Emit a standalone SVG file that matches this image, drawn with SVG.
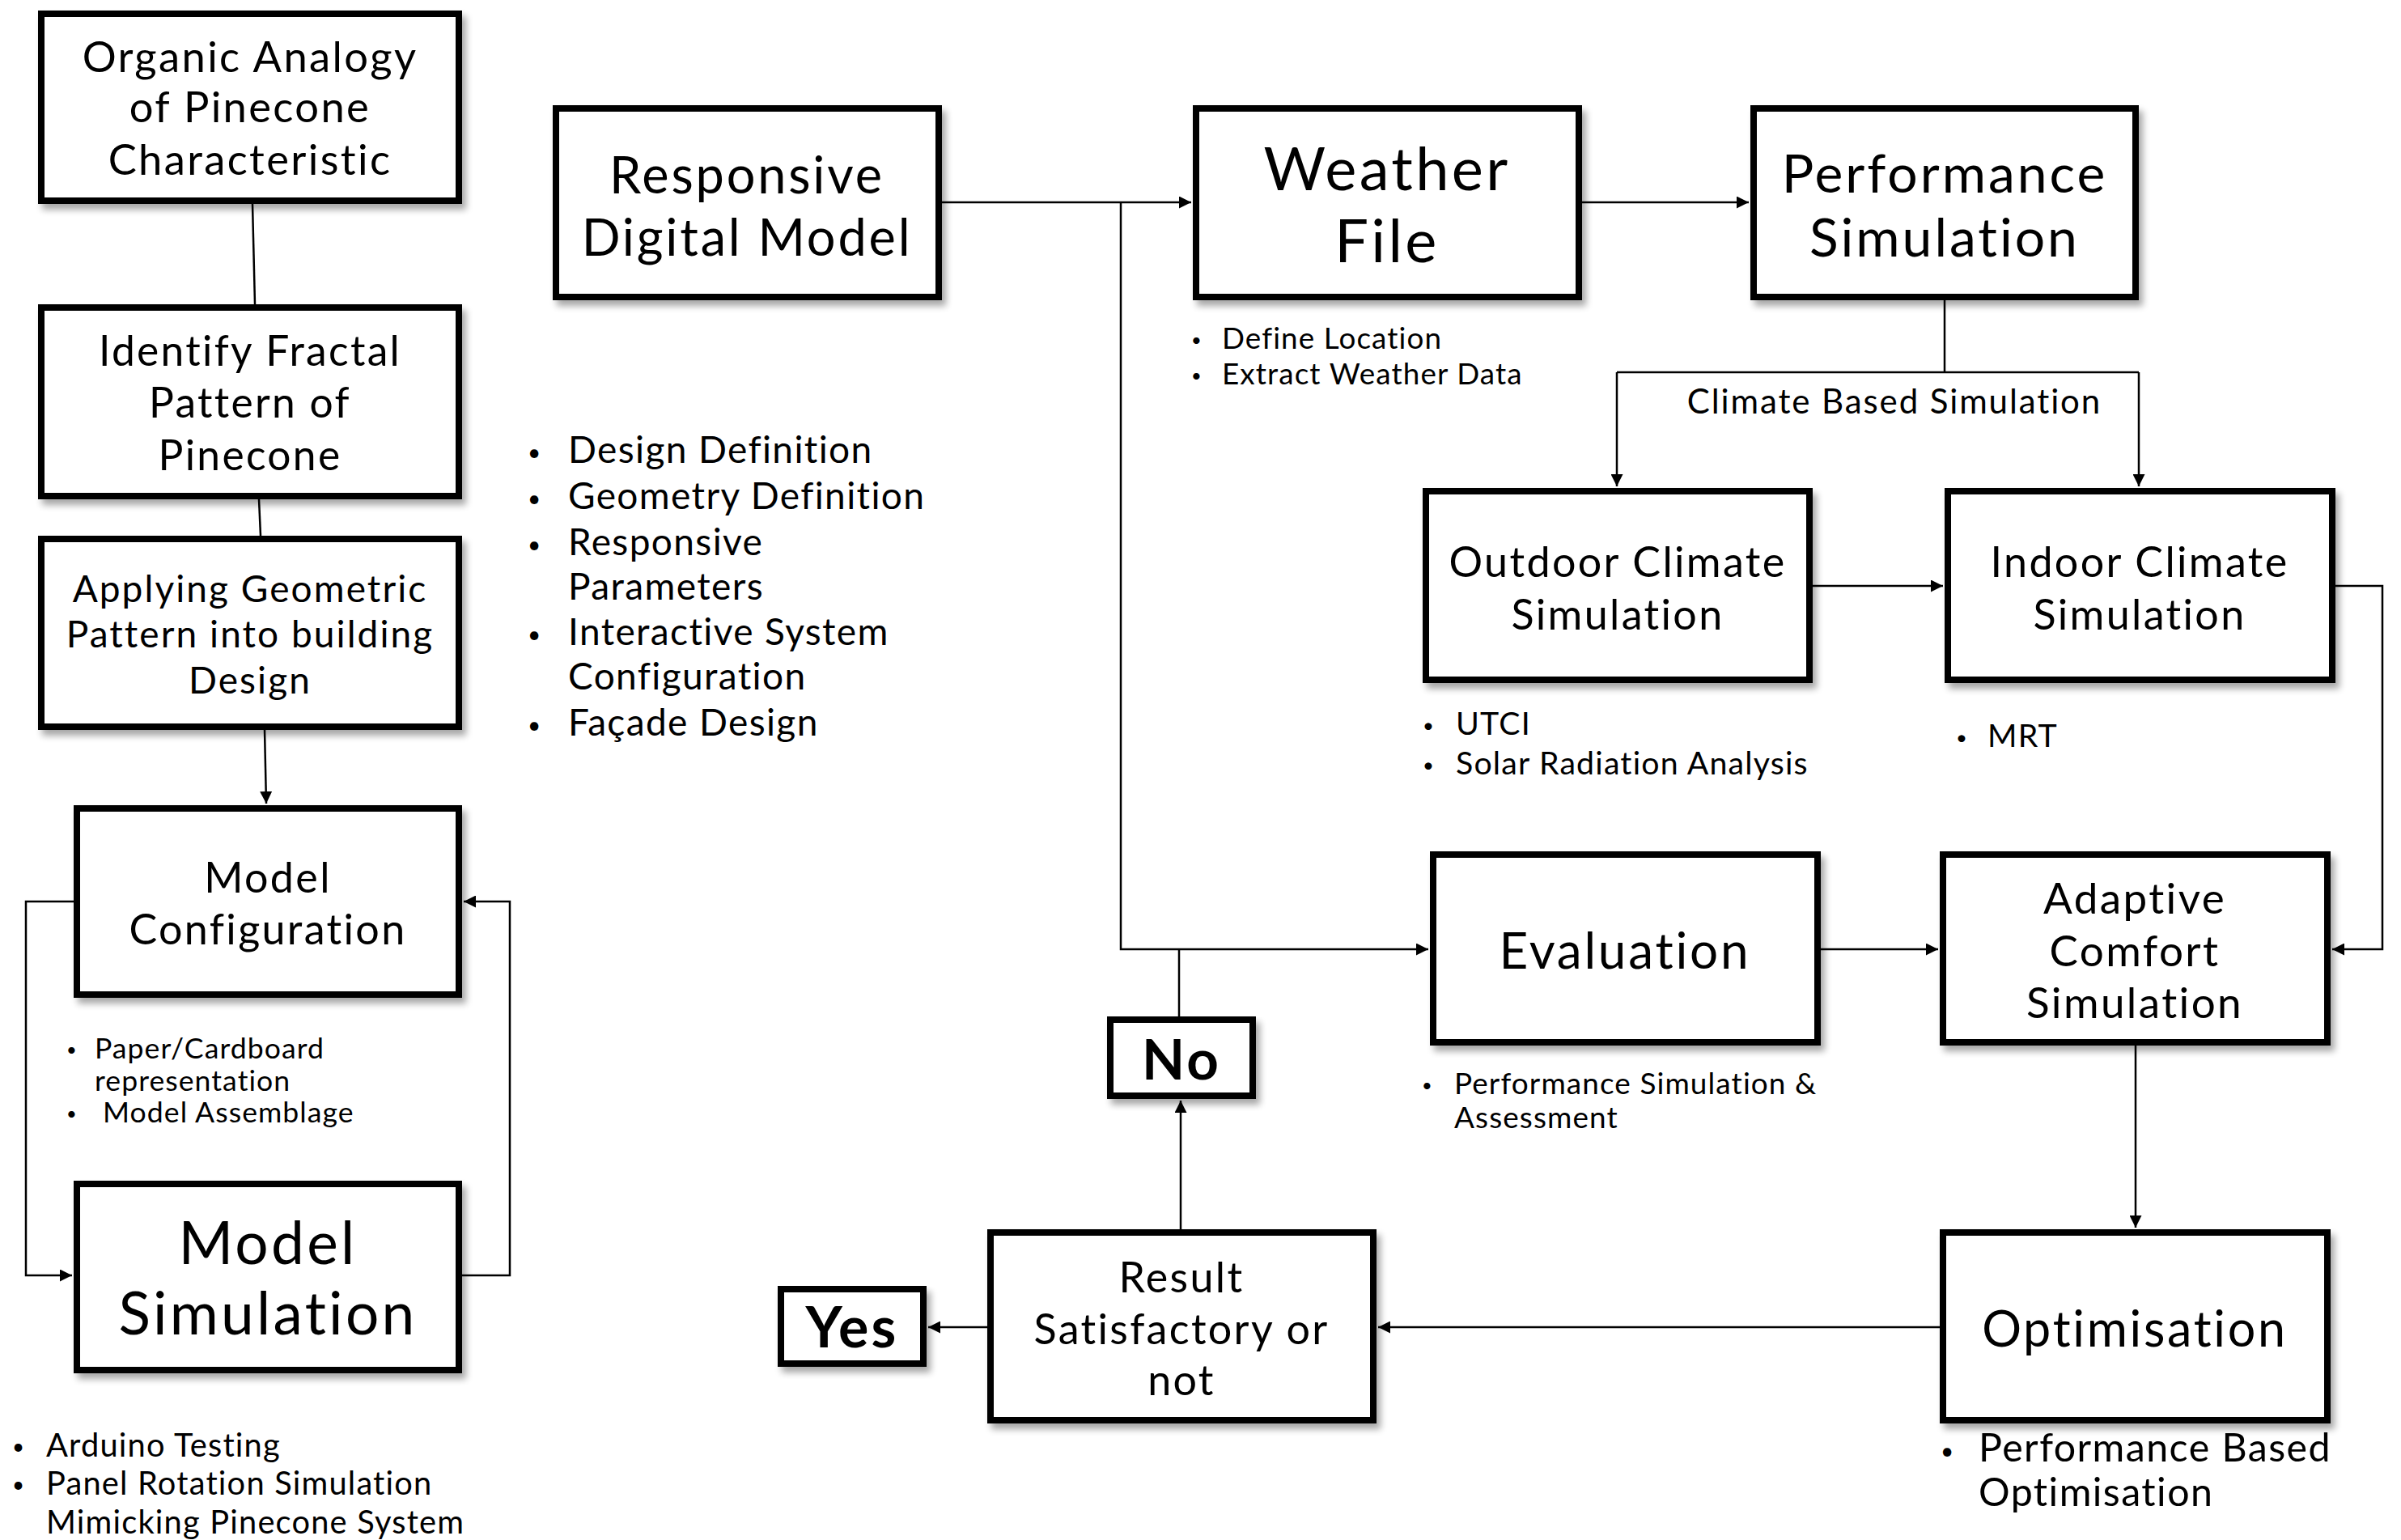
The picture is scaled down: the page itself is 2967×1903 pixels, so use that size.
<svg xmlns="http://www.w3.org/2000/svg" width="2967" height="1903" viewBox="0 0 2967 1903">
  <defs>
    <filter id="shadow" x="-10%" y="-10%" width="125%" height="130%">
      <feGaussianBlur in="SourceAlpha" stdDeviation="4"/>
      <feOffset dx="5" dy="7" result="off"/>
      <feComponentTransfer><feFuncA type="linear" slope="0.35"/></feComponentTransfer>
      <feMerge><feMergeNode/><feMergeNode in="SourceGraphic"/></feMerge>
    </filter>
    <marker id="arrow" viewBox="0 0 10 10" refX="10" refY="5" markerWidth="6" markerHeight="6" markerUnits="strokeWidth" orient="auto">
      <path d="M0,0 L10,5 L0,10 z" fill="#000"/>
    </marker>
    <style>
      .box { fill: #fff; stroke: #000; stroke-width: 8; filter: url(#shadow); }
      .t { font-family: Lato, "Open Sans", sans-serif; fill: #000; text-anchor: middle; letter-spacing: 0.045em; }
      .b { font-weight: 700; }
      .n { font-family: Lato, "Open Sans", sans-serif; fill: #000; letter-spacing: 0.03em; }
      .d { font-family: Lato, "Open Sans", sans-serif; fill: #000; }
      .c { fill: none; stroke: #000; stroke-width: 2.5; }
      .a { marker-end: url(#arrow); }
    </style>
  </defs>
  <rect width="2967" height="1903" fill="#fff"/>

  <!-- connectors -->
  <g id="connectors">
    <path class="c" d="M312,252 L315,376"/>
    <path class="c" d="M320,617 L322,662"/>
    <path class="c a" d="M327,902 L329,993"/>
    <path class="c a" d="M91,1114 L32,1114 L32,1576 L89,1576"/>
    <path class="c a" d="M571,1576 L630,1576 L630,1114 L573,1114"/>
    <path class="c a" d="M1164,250 L1472,250"/>
    <path class="c a" d="M1385,250 L1385,1173 L1765,1173"/>
    <path class="c" d="M1457,1256 L1457,1173"/>
    <path class="c a" d="M1955,250 L2161,250"/>
    <path class="c" d="M2403,371 L2403,460"/>
    <path class="c" d="M1998,460 L2643,460"/>
    <path class="c a" d="M1998,460 L1998,601"/>
    <path class="c a" d="M2643,460 L2643,601"/>
    <path class="c a" d="M2240,724 L2401,724"/>
    <path class="c a" d="M2886,724 L2944,724 L2944,1173 L2882,1173"/>
    <path class="c a" d="M2250,1173 L2395,1173"/>
    <path class="c a" d="M2639,1292 L2639,1517"/>
    <path class="c a" d="M2397,1640 L1703,1640"/>
    <path class="c a" d="M1459,1519 L1459,1360"/>
    <path class="c a" d="M1220,1640 L1147,1640"/>
  </g>

  <!-- left column -->
  <g id="organic-analogy">
    <rect class="box" x="51" y="17" width="516" height="231"/>
    <text class="t" font-size="52.5" x="309" y="89">Organic Analogy</text>
    <text class="t" font-size="52.5" x="309" y="151">of Pinecone</text>
    <text class="t" font-size="52.5" x="309" y="216">Characteristic</text>
  </g>
  <g id="fractal-pattern">
    <rect class="box" x="51" y="380" width="516" height="233"/>
    <text class="t" font-size="51.5" x="309" y="452">Identify Fractal</text>
    <text class="t" font-size="51.5" x="309" y="516">Pattern of</text>
    <text class="t" font-size="51.5" x="309" y="581">Pinecone</text>
  </g>
  <g id="geometric-pattern">
    <rect class="box" x="51" y="666" width="516" height="232"/>
    <text class="t" font-size="46" x="309" y="744">Applying Geometric</text>
    <text class="t" font-size="46" x="309" y="800">Pattern into building</text>
    <text class="t" font-size="46" x="309" y="857">Design</text>
  </g>
  <g id="model-configuration">
    <rect class="box" x="95" y="999" width="472" height="230"/>
    <text class="t" font-size="52" x="331" y="1103">Model</text>
    <text class="t" font-size="52" x="331" y="1167">Configuration</text>
  </g>
  <g id="model-configuration-notes">
    <text class="d" font-size="22" x="82" y="1305">•</text>
    <text class="n" font-size="35.6" x="117" y="1308">Paper/Cardboard</text>
    <text class="n" font-size="35.6" x="117" y="1348">representation</text>
    <text class="d" font-size="22" x="82" y="1384">•</text>
    <text class="n" font-size="35.6" x="127" y="1387">Model Assemblage</text>
  </g>
  <g id="model-simulation">
    <rect class="box" x="95" y="1463" width="472" height="230"/>
    <text class="t" font-size="73" x="331" y="1562">Model</text>
    <text class="t" font-size="73" x="331" y="1649">Simulation</text>
  </g>
  <g id="model-simulation-notes">
    <text class="d" font-size="26" x="15" y="1797">•</text>
    <text class="n" font-size="39.8" x="57" y="1800">Arduino Testing</text>
    <text class="d" font-size="26" x="15" y="1844">•</text>
    <text class="n" font-size="39.8" x="57" y="1847">Panel Rotation Simulation</text>
    <text class="n" font-size="39.8" x="57" y="1895">Mimicking Pinecone System</text>
  </g>

  <!-- digital model -->
  <g id="responsive-digital-model">
    <rect class="box" x="687" y="134" width="473" height="233"/>
    <text class="t" font-size="63" x="923" y="239">Responsive</text>
    <text class="t" font-size="63" x="923" y="316">Digital Model</text>
  </g>
  <g id="responsive-notes">
    <text class="d" font-size="28" x="652" y="569">•</text>
    <text class="n" font-size="46" x="702" y="572">Design Definition</text>
    <text class="d" font-size="28" x="652" y="626">•</text>
    <text class="n" font-size="46" x="702" y="629">Geometry Definition</text>
    <text class="d" font-size="28" x="652" y="683">•</text>
    <text class="n" font-size="46" x="702" y="686">Responsive</text>
    <text class="n" font-size="46" x="702" y="741">Parameters</text>
    <text class="d" font-size="28" x="652" y="794">•</text>
    <text class="n" font-size="46" x="702" y="797">Interactive System</text>
    <text class="n" font-size="46" x="702" y="852">Configuration</text>
    <text class="d" font-size="28" x="652" y="906">•</text>
    <text class="n" font-size="46" x="702" y="909">Façade Design</text>
  </g>

  <!-- simulation chain -->
  <g id="weather-file">
    <rect class="box" x="1478" y="134" width="473" height="233"/>
    <text class="t" font-size="74" x="1714" y="235">Weather</text>
    <text class="t" font-size="74" x="1714" y="324">File</text>
  </g>
  <g id="weather-notes">
    <text class="d" font-size="22" x="1472" y="428">•</text>
    <text class="n" font-size="36.8" x="1510" y="431">Define Location</text>
    <text class="d" font-size="22" x="1472" y="472">•</text>
    <text class="n" font-size="36.8" x="1510" y="475">Extract Weather Data</text>
  </g>
  <g id="performance-simulation">
    <rect class="box" x="2167" y="134" width="472" height="233"/>
    <text class="t" font-size="66" x="2403" y="238">Performance</text>
    <text class="t" font-size="66" x="2403" y="317">Simulation</text>
  </g>
  <g id="climate-based-label">
    <text class="t" font-size="42" x="2341" y="511">Climate Based Simulation</text>
  </g>
  <g id="outdoor-climate">
    <rect class="box" x="1762" y="607" width="474" height="233"/>
    <text class="t" font-size="52" x="1999" y="713">Outdoor Climate</text>
    <text class="t" font-size="52" x="1999" y="778">Simulation</text>
  </g>
  <g id="outdoor-notes">
    <text class="d" font-size="24" x="1758" y="905">•</text>
    <text class="n" font-size="39.3" x="1799" y="908">UTCI</text>
    <text class="d" font-size="24" x="1758" y="954">•</text>
    <text class="n" font-size="39.3" x="1799" y="957">Solar Radiation Analysis</text>
  </g>
  <g id="indoor-climate">
    <rect class="box" x="2407" y="607" width="475" height="233"/>
    <text class="t" font-size="52" x="2644" y="713">Indoor Climate</text>
    <text class="t" font-size="52" x="2644" y="778">Simulation</text>
  </g>
  <g id="indoor-notes">
    <text class="d" font-size="24" x="2417" y="920">•</text>
    <text class="n" font-size="39.3" x="2456" y="923">MRT</text>
  </g>
  <g id="evaluation">
    <rect class="box" x="1771" y="1056" width="475" height="232"/>
    <text class="t" font-size="62" x="2008" y="1197">Evaluation</text>
  </g>
  <g id="evaluation-notes">
    <text class="d" font-size="22" x="1757" y="1349">•</text>
    <text class="n" font-size="36.9" x="1797" y="1352">Performance Simulation &amp;</text>
    <text class="n" font-size="36.9" x="1797" y="1394">Assessment</text>
  </g>
  <g id="adaptive-comfort">
    <rect class="box" x="2401" y="1056" width="475" height="232"/>
    <text class="t" font-size="53" x="2638" y="1129">Adaptive</text>
    <text class="t" font-size="53" x="2638" y="1194">Comfort</text>
    <text class="t" font-size="53" x="2638" y="1258">Simulation</text>
  </g>
  <g id="optimisation">
    <rect class="box" x="2401" y="1523" width="475" height="232"/>
    <text class="t" font-size="61" x="2638" y="1664">Optimisation</text>
  </g>
  <g id="optimisation-notes">
    <text class="d" font-size="28" x="2398" y="1803">•</text>
    <text class="n" font-size="48.3" x="2445" y="1806">Performance Based</text>
    <text class="n" font-size="48.3" x="2445" y="1861">Optimisation</text>
  </g>

  <!-- decision -->
  <g id="result">
    <rect class="box" x="1224" y="1523" width="473" height="232"/>
    <text class="t" font-size="52" x="1460" y="1597">Result</text>
    <text class="t" font-size="52" x="1460" y="1661">Satisfactory or</text>
    <text class="t" font-size="52" x="1460" y="1724">not</text>
  </g>
  <g id="no">
    <rect class="box" x="1372" y="1260" width="176" height="94"/>
    <text class="t b" font-size="69" x="1460" y="1334">No</text>
  </g>
  <g id="yes">
    <rect class="box" x="965" y="1593" width="176" height="92"/>
    <text class="t b" font-size="70" x="1053" y="1665">Yes</text>
  </g>
</svg>
